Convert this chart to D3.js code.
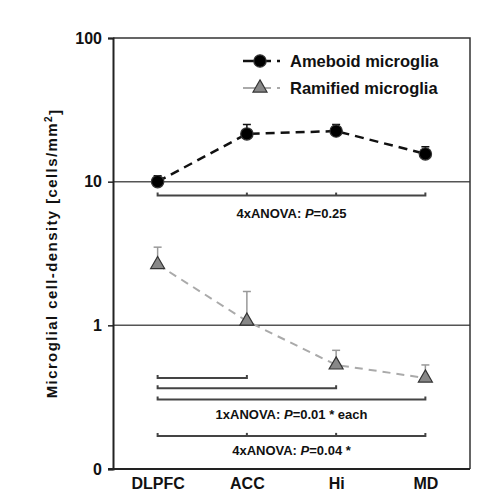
<!DOCTYPE html>
<html>
<head>
<meta charset="utf-8">
<script src="https://cdn.jsdelivr.net/npm/d3@7"></script>
<style>
  body { margin: 0; background: #fff; }
  text { font-family: "Liberation Sans", Arial, sans-serif; font-weight: bold; fill: #111; }
</style>
</head>
<body>
<div id="chart"></div>
<script>
// Data
const regions = ["DLPFC", "ACC", "Hi", "MD"];
const ameboidMean = [10.0, 21.5, 22.5, 15.6];
const ameboidErr = [1.0, 3.5, 2.5, 1.9];
const ramifiedMean = [2.65, 1.07, 0.53, 0.43];
const ramifiedErr = [0.85, 0.65, 0.14, 0.10];
const yTicks = [0.1, 1, 10, 100];
const yTickLabels = ["0", "1", "10", "100"];

// Significance brackets (levels in data units)
const brackets = [
  { from: "DLPFC", to: "MD", ticks: ["ACC", "Hi"], level: 8.0 },
  { from: "DLPFC", to: "ACC", ticks: [], level: 0.43 },
  { from: "DLPFC", to: "Hi", ticks: [], level: 0.365 },
  { from: "DLPFC", to: "MD", ticks: [], level: 0.305 },
  { from: "DLPFC", to: "MD", ticks: ["ACC", "Hi"], level: 0.17 }
];
const bracketLabels = [
  { pre: "4xANOVA: ", p: "P", post: "=0.25", level: 5.6 },
  { pre: "1xANOVA: ", p: "P", post: "=0.01 * each", level: 0.222 },
  { pre: "4xANOVA: ", p: "P", post: "=0.04 *", level: 0.125 }
];

const width = 500, height = 494;
const margin = { top: 38, right: 30, bottom: 25, left: 113 };

const svg = d3.select("#chart").append("svg")
  .attr("width", width)
  .attr("height", height);

const x = d3.scalePoint()
  .domain(regions)
  .range([margin.left, width - margin.right])
  .padding(0.5);

const y = d3.scaleLog()
  .domain([0.1, 100])
  .range([height - margin.bottom, margin.top]);

const x0 = margin.left, x1 = width - margin.right;
const yTop = margin.top, yBot = height - margin.bottom;

// Gridlines at 1 and 10
svg.append("g")
  .selectAll("line")
  .data([1, 10])
  .join("line")
  .attr("x1", x0).attr("x2", x1)
  .attr("y1", d => y(d)).attr("y2", d => y(d))
  .style("stroke", "#555")
  .style("stroke-width", 1.5);

// Frame (top & right)
svg.append("path")
  .attr("d", `M${x0},${yTop}H${x1}V${yBot}`)
  .style("fill", "none")
  .style("stroke", "#333")
  .style("stroke-width", 1.5);

// Left axis
const yAxis = svg.append("g")
  .attr("transform", `translate(${x0},0)`)
  .call(d3.axisLeft(y).tickValues(yTicks).tickSize(5).tickPadding(6)
    .tickFormat((d, i) => yTickLabels[i]));
yAxis.select(".domain").style("stroke", "#222").style("stroke-width", 2);
yAxis.selectAll(".tick line").style("stroke", "#222").style("stroke-width", 1.5);
yAxis.selectAll(".tick text")
  .style("font-size", "16px")
  .style("font-family", "'Liberation Sans', Arial, sans-serif")
  .style("font-weight", "bold")
  .style("fill", "#111");

// Bottom axis
const xAxis = svg.append("g")
  .attr("transform", `translate(0,${yBot})`)
  .call(d3.axisBottom(x).tickSize(0).tickPadding(9));
xAxis.select(".domain").remove();
xAxis.append("line")
  .attr("x1", x0 - 5).attr("x2", x1)
  .style("stroke", "#222").style("stroke-width", 2);
xAxis.selectAll(".tick text")
  .style("font-size", "16px")
  .style("font-family", "'Liberation Sans', Arial, sans-serif")
  .style("font-weight", "bold")
  .style("fill", "#111");

// Y axis title
const title = svg.append("text")
  .attr("transform", `translate(57,${(yTop + yBot) / 2}) rotate(-90)`)
  .style("text-anchor", "middle")
  .style("font-size", "15px")
  .style("letter-spacing", "1.4px");
title.append("tspan").text("Microglial cell-density [cells/mm");
title.append("tspan").attr("dy", "-0.5em").style("font-size", "10px").text("2");
title.append("tspan").attr("dy", "0.5em").text("]");

// Brackets
const bracket = svg.append("g")
  .style("fill", "none")
  .style("stroke", "#444")
  .style("stroke-width", 2);
brackets.forEach(b => {
  const yy = y(b.level);
  bracket.append("path")
    .attr("d", `M${x(b.from)},${yy - 3}V${yy}H${x(b.to)}V${yy - 3}`);
  b.ticks.forEach(t => {
    bracket.append("line")
      .attr("x1", x(t)).attr("x2", x(t))
      .attr("y1", yy).attr("y2", yy - 3);
  });
});

const cx = (x("DLPFC") + x("MD")) / 2;
bracketLabels.forEach(l => {
  const t = svg.append("text")
    .attr("x", cx)
    .attr("y", y(l.level))
    .style("text-anchor", "middle")
    .style("font-size", "13px");
  t.append("tspan").text(l.pre);
  t.append("tspan").style("font-style", "italic").text(l.p);
  t.append("tspan").text(l.post);
});

// Series
const series = [
  { name: "Ameboid microglia", mean: ameboidMean, err: ameboidErr, color: "#111", errColor: "#111", lineWidth: 2.5, dash: "9,6", symbol: d3.symbolCircle, size: 120, fill: "#000" },
  { name: "Ramified microglia", mean: ramifiedMean, err: ramifiedErr, color: "#aaa", errColor: "#999", lineWidth: 2, dash: "8,6", symbol: d3.symbolTriangle, size: 85, fill: "#888" }
];

const line = d3.line()
  .x((d, i) => x(regions[i]))
  .y(d => y(d));

series.forEach(s => {
  // Upper error bars
  const eb = svg.append("g")
    .style("stroke", s.errColor)
    .style("stroke-width", 1.5);
  s.mean.forEach((m, i) => {
    const px = x(regions[i]);
    const top = y(m + s.err[i]);
    eb.append("line").attr("x1", px).attr("x2", px).attr("y1", y(m)).attr("y2", top);
    eb.append("line").attr("x1", px - 4).attr("x2", px + 4).attr("y1", top).attr("y2", top);
  });

  svg.append("path")
    .datum(s.mean)
    .attr("d", line)
    .style("fill", "none")
    .style("stroke", s.color)
    .style("stroke-width", s.lineWidth)
    .style("stroke-dasharray", s.dash);

  svg.append("g")
    .selectAll("path")
    .data(s.mean)
    .join("path")
    .attr("transform", (d, i) => `translate(${x(regions[i])},${y(d)})`)
    .attr("d", d3.symbol().type(s.symbol).size(s.size))
    .style("fill", s.fill)
    .style("stroke", "#333")
    .style("stroke-width", 1.2);
});

// Legend
const legend = svg.append("g").attr("transform", "translate(243,61)");
series.forEach((s, i) => {
  const row = legend.append("g").attr("transform", `translate(0,${i * 27})`);
  row.append("line")
    .attr("x1", 0).attr("x2", 28)
    .style("stroke", s.color)
    .style("stroke-width", s.lineWidth);
  row.append("line")
    .attr("x1", 34).attr("x2", 37)
    .style("stroke", s.color)
    .style("stroke-width", s.lineWidth);
  row.append("path")
    .attr("transform", "translate(17,0)")
    .attr("d", d3.symbol().type(s.symbol).size(s.size))
    .style("fill", s.fill)
    .style("stroke", "#333")
    .style("stroke-width", 1.2);
  row.append("text")
    .attr("x", 47)
    .attr("dy", "0.36em")
    .style("font-size", "16.5px")
    .text(s.name);
});
</script>
</body>
</html>
